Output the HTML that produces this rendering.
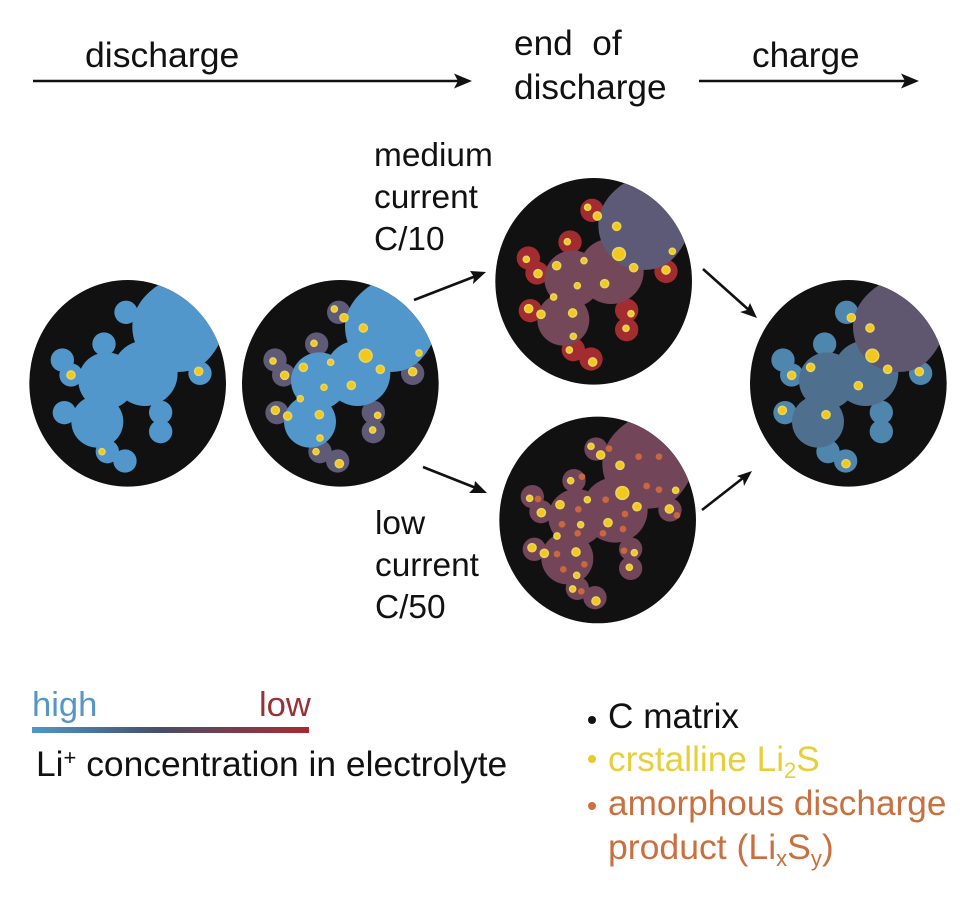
<!DOCTYPE html>
<html><head><meta charset="utf-8">
<style>
html,body{margin:0;padding:0;background:#fff}
svg{display:block}
text{font-family:"Liberation Sans",sans-serif;font-size:33.4px;fill:#111}
text.w{font-size:35.2px}
.s{fill:var(--s)}.m{fill:var(--m)}.t{fill:var(--t)}
</style></head><body>
<svg width="977" height="899" viewBox="0 0 977 899" xmlns="http://www.w3.org/2000/svg">
<defs>
<clipPath id="cc"><ellipse cx="323" cy="340" rx="295" ry="310"/></clipPath>
<linearGradient id="g"><stop offset="0" stop-color="#4f97cc"/><stop offset=".45" stop-color="#45506a"/><stop offset="1" stop-color="#a82a30"/></linearGradient>
<g id="b">
<ellipse cx="323" cy="340" rx="295" ry="310" fill="#111"/>
<g class="s">
<circle cx="318" cy="127" r="35"/><circle cx="252" cy="222" r="35"/><circle cx="127" cy="270" r="35"/><circle cx="153" cy="315" r="35"/><circle cx="133" cy="428" r="35"/><circle cx="422" cy="427" r="35"/><circle cx="422" cy="485" r="35"/><circle cx="262" cy="545" r="35"/><circle cx="315" cy="573" r="35"/><circle cx="540" cy="310" r="35"/>
</g>
<g class="m">
<circle cx="375" cy="310" r="98"/><circle cx="260" cy="332" r="85"/><circle cx="232" cy="455" r="78"/>
</g>
<g clip-path="url(#cc)"><path class="t" d="M337,170 C337,115 375,70 420,42 L620,90 L597,222 C565,280 530,306 470,306 C395,306 337,245 337,170 Z"/></g>
</g>
<g id="yall" fill="#f2c81c" stroke="#e9d45c" stroke-width="5">
<circle cx="298" cy="117" r="9"/><circle cx="327" cy="143" r="12"/><circle cx="385" cy="174" r="12"/><circle cx="392" cy="257" r="19"/><circle cx="552" cy="249" r="9"/><circle cx="533" cy="305" r="12"/><circle cx="237" cy="220" r="9"/><circle cx="287" cy="277" r="9"/><circle cx="205" cy="292" r="12"/><circle cx="114" cy="273" r="9"/><circle cx="149" cy="316" r="12"/><circle cx="436" cy="298" r="12"/><circle cx="349" cy="346" r="12"/><circle cx="267" cy="352" r="9"/><circle cx="196" cy="386" r="9"/><circle cx="121" cy="421" r="12"/><circle cx="158" cy="438" r="12"/><circle cx="253" cy="434" r="12"/><circle cx="255" cy="504" r="9"/><circle cx="428" cy="436" r="9"/><circle cx="413" cy="480" r="9"/><circle cx="243" cy="545" r="9"/><circle cx="313" cy="581" r="12"/>
</g>
</defs>

<!-- panel 1 -->
<g transform="translate(20 270) scale(.3333)" style="--s:#5197cb;--m:#5197cb;--t:#5197cb">
<use href="#b"/>
<g fill="#f2c81c" stroke="#e9d45c" stroke-width="5"><circle cx="153" cy="315" r="12"/><circle cx="536" cy="304" r="12"/><circle cx="246" cy="545" r="9"/></g>
</g>
<!-- panel 2 -->
<g transform="translate(235 270) scale(.3333)" style="--s:#5f5a75;--m:#5197cb;--t:#5197cb">
<use href="#b" x="-7"/>
<use href="#yall"/>
</g>
<!-- panel 3 -->
<g transform="translate(490 170) scale(.3333)" style="--s:#a32c30;--m:#744759;--t:#5d5a78">
<use href="#b" x="-12" y="-6"/>
<use href="#yall" x="-5" y="-5"/>
</g>
<!-- panel 4 -->
<g transform="translate(490 410) scale(.3333)" style="--s:#724658;--m:#724658;--t:#724658">
<use href="#b" x="0" y="-10"/>
<use href="#yall" x="5" y="-8"/>
<g fill="#c9683f">
<circle cx="357" cy="116" r="10"/><circle cx="446" cy="140" r="10"/><circle cx="507" cy="140" r="10"/><circle cx="470" cy="228" r="10"/><circle cx="507" cy="239" r="10"/><circle cx="347" cy="269" r="10"/><circle cx="405" cy="312" r="10"/><circle cx="399" cy="357" r="10"/><circle cx="339" cy="370" r="10"/><circle cx="265" cy="298" r="10"/><circle cx="216" cy="343" r="10"/><circle cx="263" cy="370" r="10"/><circle cx="201" cy="432" r="10"/><circle cx="283" cy="463" r="10"/><circle cx="220" cy="478" r="10"/><circle cx="276" cy="200" r="10"/><circle cx="144" cy="267" r="10"/><circle cx="561" cy="316" r="10"/><circle cx="402" cy="422" r="10"/><circle cx="274" cy="544" r="10"/>
</g>
</g>
<!-- panel 5 -->
<g transform="translate(745 270) scale(.3333)" style="--s:#4f86ad;--m:#4f6f8e;--t:#5f566f">
<use href="#b" x="-13"/>
<g fill="#f2c81c" stroke="#e9d45c" stroke-width="5">
<circle cx="319" cy="143" r="12"/><circle cx="375" cy="174" r="12"/><circle cx="382" cy="257" r="19"/><circle cx="428" cy="298" r="12"/><circle cx="523" cy="305" r="12"/><circle cx="197" cy="292" r="12"/><circle cx="140" cy="316" r="12"/><circle cx="340" cy="347" r="12"/><circle cx="112" cy="421" r="12"/><circle cx="243" cy="434" r="12"/><circle cx="303" cy="581" r="12"/>
</g>
</g>

<!-- top arrows -->
<g stroke="#111" stroke-width="2.6" fill="none">
<line x1="33" y1="81" x2="460" y2="81"/>
<line x1="699" y1="81" x2="908" y2="81"/>
<line x1="414" y1="300" x2="476" y2="276"/>
<line x1="423" y1="467" x2="476" y2="488"/>
<line x1="703" y1="269" x2="750" y2="311"/>
<line x1="702" y1="510" x2="743" y2="478"/>
</g>
<g fill="#111">
<polygon points="472,81 454,73.500 458,81 454,88.500"/>
<polygon points="919,81 901,73.500 905,81 901,88.500"/>
<polygon points="486,272 470,271 474,277 473,284"/>
<polygon points="487,493 475,481 474,488 469,493"/>
<polygon points="757,318 750,303 747,310 740,312"/>
<polygon points="752,471 737,476 743,479 744,486"/>
</g>

<!-- labels -->
<text class="w" x="85" y="67" style="font-size:35.6px">discharge</text>
<text class="w" x="514" y="55">end&#160; of</text>
<text class="w" x="514" y="99">discharge</text>
<text class="w" x="752" y="67">charge</text>
<text x="374" y="166">medium</text>
<text x="374" y="208">current</text>
<text x="374" y="250">C/10</text>
<text x="375" y="534">low</text>
<text x="375" y="576">current</text>
<text x="375" y="618">C/50</text>

<!-- gradient legend -->
<text class="w" x="32" y="716" style="fill:#5596c4;font-size:34.6px">high</text>
<text class="w" x="259" y="716" style="fill:#98323a;font-size:34.6px">low</text>
<rect x="32" y="727" width="277" height="6" fill="url(#g)"/>
<text class="w" x="36" y="776" style="font-size:35.4px">Li<tspan dy="-11" style="font-size:22px">+</tspan><tspan dy="11"> concentration in electrolyte</tspan></text>

<!-- material legend -->
<circle cx="592" cy="720" r="4" fill="#111"/>
<circle cx="592" cy="759" r="4" fill="#e6c92a"/>
<circle cx="592" cy="806" r="4" fill="#cf6f3c"/>
<text class="w" x="608" y="728">C matrix</text>
<text class="w" x="608" y="771" style="fill:#e6cf3a">crstalline Li<tspan dy="7" style="font-size:22px;fill:#e6cf3a">2</tspan><tspan dy="-7" style="fill:#e6cf3a">S</tspan></text>
<text class="w" x="608" y="815" style="fill:#c8703f">amorphous discharge</text>
<text class="w" x="608" y="859" style="fill:#c8703f;font-size:35.6px">product (Li<tspan dy="7" style="font-size:22px;fill:#c8703f">x</tspan><tspan dy="-7" style="fill:#c8703f">S</tspan><tspan dy="7" style="font-size:22px;fill:#c8703f">y</tspan><tspan dy="-7" style="fill:#c8703f">)</tspan></text>
</svg>
</body></html>
